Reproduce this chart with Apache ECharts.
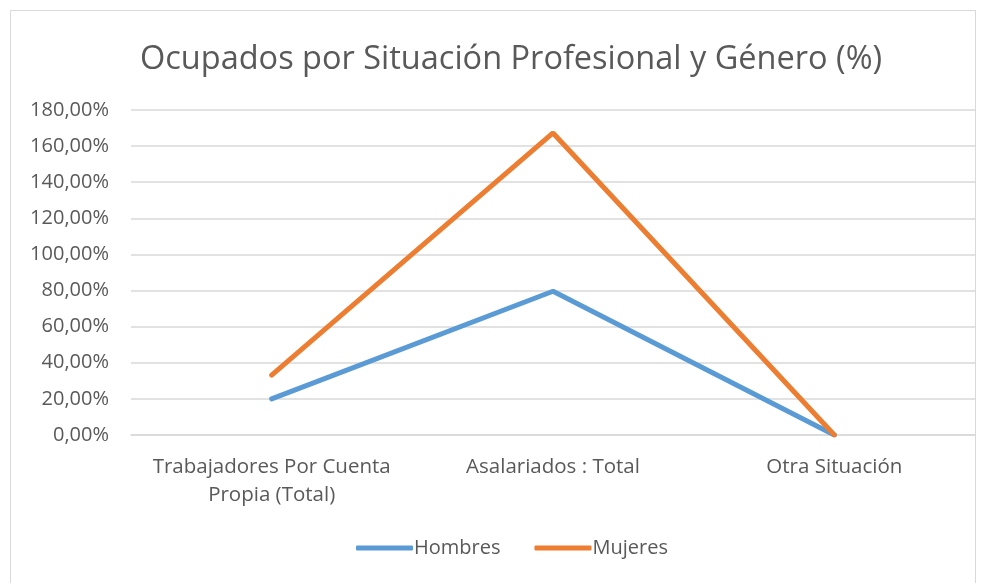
<!DOCTYPE html>
<html>
<head>
<meta charset="utf-8">
<script src="https://cdn.jsdelivr.net/npm/echarts@6/dist/echarts.min.js"></script>
<style>
  html, body { margin: 0; padding: 0; background: #fff; }
  #chart {
    position: absolute;
    left: 10px; top: 10px;
    width: 966px; height: 573px;
    border: 1px solid #d9d9d9;
    border-bottom: none;
    box-sizing: border-box;
  }
</style>
</head>
<body>
<div id="chart"></div>
<script>
// datos
const categorias = ['Trabajadores Por Cuenta\nPropia (Total)', 'Asalariados : Total', 'Otra Situación'];
const hombres = [20.0, 79.6, 0];
const mujeres = [33.2, 167.3, 0];

const myChart = echarts.init(document.getElementById('chart'));
const font = '"Open Sans", "Noto Sans", sans-serif';

let option = {
  animation: false,
  title: {
    text: 'Ocupados por Situación Profesional y Género (%)',
    left: 124,
    top: 27,
    textStyle: { fontFamily: font, fontSize: 32.5, fontWeight: 'normal', color: '#595959' }
  },
  legend: {
    bottom: 20,
    left: 340,
    itemWidth: 57,
    itemHeight: 5,
    itemGap: 34,
    icon: 'roundRect',
    textStyle: { fontFamily: font, fontSize: 20, color: '#595959', padding: [0, 0, 0, -4] },
    data: ['Hombres', 'Mujeres']
  },
  grid: { left: 120, right: 0, top: 99, bottom: 148, containLabel: false },
  xAxis: {
    type: 'category',
    data: categorias,
    boundaryGap: true,
    axisTick: { show: false },
    axisLine: { lineStyle: { color: '#d9d9d9', width: 1.5 } },
    axisLabel: { fontFamily: font, fontSize: 20.5, color: '#595959', margin: 18, lineHeight: 28, interval: 0 }
  },
  yAxis: {
    type: 'value',
    min: 0,
    max: 180,
    interval: 20,
    axisLabel: {
      fontFamily: font, fontSize: 20, color: '#595959', margin: 22,
      formatter: v => v.toFixed(2).replace('.', ',') + '%'
    },
    splitLine: { lineStyle: { color: '#d9d9d9', width: 1.5 } },
    axisLine: { show: false },
    axisTick: { show: false }
  },
  series: [
    {
      name: 'Hombres',
      type: 'line',
      data: hombres,
      symbol: 'none',
      lineStyle: { color: '#5b9bd5', width: 5, cap: 'round' },
      itemStyle: { color: '#5b9bd5' }
    },
    {
      name: 'Mujeres',
      type: 'line',
      data: mujeres,
      symbol: 'none',
      lineStyle: { color: '#ed7d31', width: 5, cap: 'round' },
      itemStyle: { color: '#ed7d31' }
    }
  ]
};
myChart.setOption(option);
</script>
</body>
</html>
